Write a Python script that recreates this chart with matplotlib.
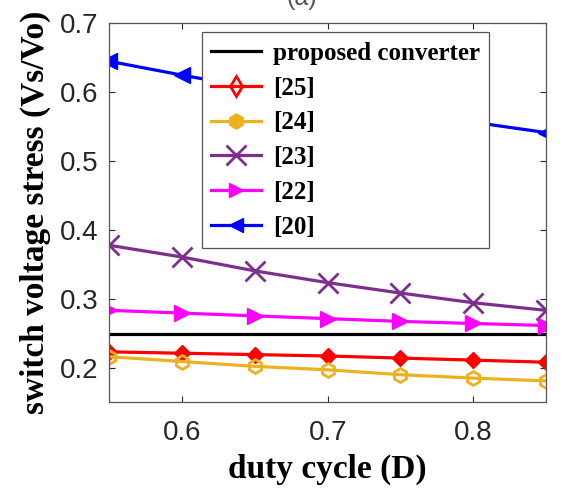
import matplotlib
matplotlib.use('Agg')
import matplotlib.pyplot as plt
from matplotlib.lines import Line2D

# duty cycle values
duty = [0.55, 0.60, 0.65, 0.70, 0.75, 0.80, 0.85]

# switch voltage stress
proposed = [0.25, 0.25, 0.25, 0.25, 0.25, 0.25, 0.25]
ref25 = [0.224, 0.222, 0.220, 0.218, 0.215, 0.212, 0.209]
ref24 = [0.217, 0.210, 0.203, 0.198, 0.191, 0.186, 0.182]
ref23 = [0.378, 0.361, 0.341, 0.324, 0.309, 0.295, 0.284]
ref22 = [0.284, 0.280, 0.276, 0.272, 0.268, 0.265, 0.262]
ref20 = [0.644, 0.624, 0.605, 0.588, 0.572, 0.556, 0.541]

xticks = [0.6, 0.7, 0.8]
yticks = [0.2, 0.3, 0.4, 0.5, 0.6, 0.7]

serif = ['Liberation Serif', 'DejaVu Serif']
sans = ['Liberation Sans', 'DejaVu Sans']

red = '#ff0000'
orange = '#edb120'
purple = '#7e2f8e'
magenta = '#ff00ff'
blue = '#0000ff'

fig = plt.figure(figsize=(5.64, 4.91), dpi=100)
ax = fig.add_axes([0.194, 0.182, 0.774, 0.772])

lw = 2.3
ax.plot(duty, proposed, color='black', lw=lw)
ax.plot(duty, ref25, color=red, lw=lw, marker='D', ms=8)
ax.plot(duty, ref24, color=orange, lw=lw, marker='h', ms=10, mfc='none', mew=2)
ax.plot(duty, ref23, color=purple, lw=lw, marker='x', ms=14, mew=2)
ax.plot(duty, ref22, color=magenta, lw=lw, marker='>', ms=11)
ax.plot(duty, ref20, color=blue, lw=lw, marker='<', ms=11)

ax.set_xlim(0.55, 0.85)
ax.set_ylim(0.152, 0.7)
ax.set_xticks(xticks)
ax.set_yticks(yticks)
ax.set_xticklabels([f'{t:.1f}' for t in xticks], family=sans, fontsize=20)
ax.set_yticklabels([f'{t:.1f}' for t in yticks], family=sans, fontsize=20)
ax.tick_params(direction='in', top=True, right=True, length=4, width=0.8,
               colors='#262626', labelcolor='#262626')
ax.tick_params(axis='x', pad=13)
ax.tick_params(axis='y', pad=8)
for s in ax.spines.values():
    s.set_color('#555555')
    s.set_linewidth(0.9)

ax.set_xlabel('duty cycle (D)', family=serif, fontweight='bold', fontsize=24, labelpad=6)
ax.set_ylabel('switch voltage stress (Vs/Vo)', family=serif, fontweight='bold',
              fontsize=24, labelpad=6)

# legend entries as drawn in the original figure
handles = [
    Line2D([], [], color='black', lw=lw),
    Line2D([], [], color=red, lw=lw, marker='d', ms=10, mfc='none', mew=2),
    Line2D([], [], color=orange, lw=lw, marker='h', ms=11),
    Line2D([], [], color=purple, lw=lw, marker='x', ms=14, mew=2),
    Line2D([], [], color=magenta, lw=lw, marker='>', ms=10),
    Line2D([], [], color=blue, lw=lw, marker='<', ms=10),
]
labels = ['proposed converter', '[25]', '[24]', '[23]', '[22]', '[20]']
leg = ax.legend(handles, labels, loc='upper left', bbox_to_anchor=(0.212, 0.974),
                prop={'family': serif, 'weight': 'bold', 'size': 18},
                frameon=True, fancybox=False, edgecolor='#555555', framealpha=1,
                handlelength=2.0, handletextpad=0.45, labelspacing=0.47,
                borderpad=0.38, borderaxespad=0)
leg.get_frame().set_linewidth(0.9)

fig.text(0.535, 1.005, '(a)', family=sans, fontsize=18, ha='center', va='center',
         color='#555555')

fig.savefig('out.png', dpi=100)
